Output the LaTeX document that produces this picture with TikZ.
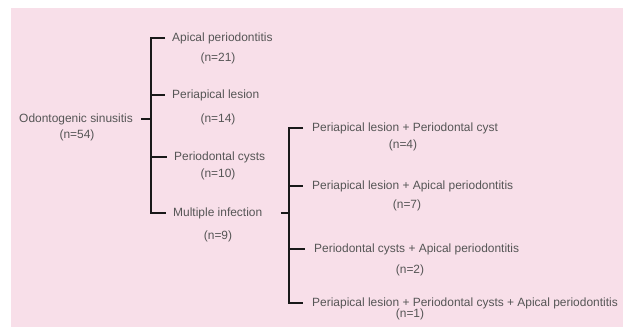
\documentclass[tikz,border=0pt]{standalone}
\usepackage{fontspec}
\setmainfont{Liberation Sans}
\usetikzlibrary{positioning,calc}
\definecolor{panelpink}{HTML}{F8DFE9}
\definecolor{labelgray}{HTML}{555555}

\begin{document}
\begin{tikzpicture}[x=0.03cm,y=-0.03cm,
  lbl/.style={font=\fontsize{10.2}{12}\selectfont, text=labelgray, inner sep=0pt},
  brace/.style={line width=1.5pt, black!90},
  tick/.style={brace, shorten >=2.1mm}]
  \useasboundingbox (0,0) rectangle (623,327);
  \fill[panelpink] (11,8) rectangle (623,327);

  % Root
  \node[lbl] (root) at (76,119) {Odontogenic sinusitis};
  \node[lbl] (rootN) at (77,135) {(n=54)};

  % First level
  \coordinate (b1) at (151,0);
  \node[lbl, anchor=west] (apical) at (172,38) {Apical periodontitis};
  \node[lbl] (apicalN) at (218,58) {(n=21)};
  \node[lbl, anchor=west] (lesion) at (172,95) {Periapical lesion};
  \node[lbl] (lesionN) at (218,119) {(n=14)};
  \node[lbl, anchor=west] (cysts) at (174,157) {Periodontal cysts};
  \node[lbl] (cystsN) at (218,174) {(n=10)};
  \node[lbl, anchor=west] (multi) at (173,213) {Multiple infection};
  \node[lbl] (multiN) at (218,236) {(n=9)};

  \draw[brace] ([xshift=2.5mm]root.east) -- (root.east -| b1);
  \draw[brace] ([xshift=-2.1mm]apical.west) -- (apical.west -| b1)
    -- (multi.west -| b1) -- ([xshift=-2.1mm]multi.west);
  \draw[tick] (lesion.west -| b1) -- (lesion.west);
  \draw[tick] (cysts.west -| b1) -- (cysts.west);

  % Second level
  \coordinate (b2) at (289,0);
  \node[lbl, anchor=west] (lesCyst) at (312,128) {Periapical lesion + Periodontal cyst};
  \node[lbl] (lesCystN) at (403,145) {(n=4)};
  \node[lbl, anchor=west] (lesApi) at (312,186) {Periapical lesion + Apical periodontitis};
  \node[lbl] (lesApiN) at (407,205) {(n=7)};
  \node[lbl, anchor=west] (cystApi) at (314,249) {Periodontal cysts + Apical periodontitis};
  \node[lbl] (cystApiN) at (410,270) {(n=2)};
  \node[lbl, anchor=west] (allThree) at (312,303) {Periapical lesion + Periodontal cysts + Apical periodontitis};
  \node[lbl] (allThreeN) at (410,314) {(n=1)};

  \draw[brace] ([xshift=5.5mm]multi.east) -- (multi.east -| b2);
  \draw[brace] ([xshift=-2.7mm]lesCyst.west) -- (lesCyst.west -| b2)
    -- (allThree.west -| b2) -- ([xshift=-2.7mm]allThree.west);
  \draw[brace, shorten >=2.7mm] (lesApi.west -| b2) -- (lesApi.west);
  \draw[brace, shorten >=2.7mm] (cystApi.west -| b2) -- (cystApi.west);
\end{tikzpicture}
\end{document}
